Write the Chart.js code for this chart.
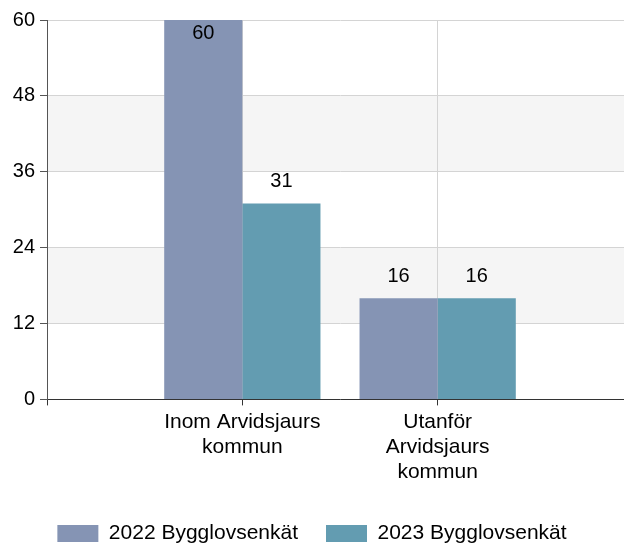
<!DOCTYPE html>
<html>
<head>
<meta charset="utf-8">
<script src="https://cdn.jsdelivr.net/npm/chart.js@4"></script>
<style>
  html, body { margin: 0; padding: 0; background: #fff; overflow: hidden; }
  #wrap { width: 637px; height: 544px; }
</style>
</head>
<body>
<div id="wrap"><canvas id="chart"></canvas></div>
<script>
// data
const categories = ["", ["Inom Arvidsjaurs", "kommun"], ["Utanför", "Arvidsjaurs", "kommun"], ""];
const seriesNames = ["2022 Bygglovsenkät", "2023 Bygglovsenkät"];
const values2022 = [null, 60, 16, null];
const values2023 = [null, 31, 16, null];
const yTicks = [0, 12, 24, 36, 48, 60];

const FONT = "Arial, 'Liberation Sans', sans-serif";

// light bands behind the grid
const bands = {
  id: "bands",
  beforeDraw(chart) {
    const { ctx, chartArea, scales } = chart;
    const y = scales.y;
    ctx.save();
    ctx.fillStyle = "#f5f5f5";
    for (let i = 1; i < yTicks.length - 1; i += 2) {
      const top = y.getPixelForValue(yTicks[i + 1]);
      const bottom = y.getPixelForValue(yTicks[i]);
      ctx.fillRect(chartArea.left, top, chartArea.right - chartArea.left, bottom - top);
    }
    ctx.restore();
  },
};

// value labels above bars
const valueLabels = {
  id: "valueLabels",
  afterDatasetsDraw(chart) {
    const { ctx, chartArea } = chart;
    ctx.save();
    ctx.font = "20px " + FONT;
    ctx.fillStyle = "#000";
    ctx.textAlign = "center";
    ctx.textBaseline = "middle";
    chart.data.datasets.forEach((ds, di) => {
      chart.getDatasetMeta(di).data.forEach((bar, i) => {
        const v = ds.data[i];
        if (v == null) return;
        let ty = bar.y - 22;
        if (ty - 10 < chartArea.top) ty = bar.y + 13;
        ctx.fillText(String(v), bar.x, ty);
      });
    });
    ctx.restore();
  },
};

// keep the legend centred in the visible 624px
const legendShift = {
  id: "legendShift",
  afterLayout(chart) {
    const lg = chart.legend;
    lg.left -= 6.5;
    lg.right -= 6.5;
    lg.top += 6;
    lg.bottom += 6;
  },
};

new Chart(document.getElementById("chart"), {
  type: "bar",
  data: {
    labels: categories,
    datasets: [
      { label: seriesNames[0], data: values2022, backgroundColor: "#8594b4" },
      { label: seriesNames[1], data: values2023, backgroundColor: "#639cb1" },
    ],
  },
  options: {
    responsive: true,
    maintainAspectRatio: false,
    animation: false,
    categoryPercentage: 0.8,
    barPercentage: 1,
    layout: { padding: { top: 20, right: 0, left: 0, bottom: -4 } },
    plugins: {
      legend: {
        position: "bottom",
        labels: {
          boxWidth: 41,
          boxHeight: 17,
          padding: 28,
          color: "#000",
          font: { size: 21, family: FONT },
        },
      },
      tooltip: { enabled: false },
    },
    scales: {
      x: {
        offset: false,
        grid: { offset: false, color: "#d4d4d4", tickColor: "#333", tickLength: 6 },
        border: { color: "#333" },
        ticks: {
          color: "#000",
          font: { size: 21, family: FONT, lineHeight: 1.2 },
          maxRotation: 0,
          autoSkip: false,
          padding: 4,
        },
      },
      y: {
        min: 0,
        max: 60,
        afterBuildTicks: (scale) => {
          scale.ticks = yTicks.map((v) => ({ value: v }));
        },
        afterFit: (scale) => {
          scale.width = 47;
        },
        grid: { color: "#d4d4d4", tickColor: "#555", tickLength: 7 },
        border: { color: "#555" },
        ticks: {
          color: "#000",
          font: { size: 20, family: FONT },
          padding: 5,
        },
      },
    },
  },
  plugins: [bands, valueLabels, legendShift],
});
</script>
</body>
</html>
